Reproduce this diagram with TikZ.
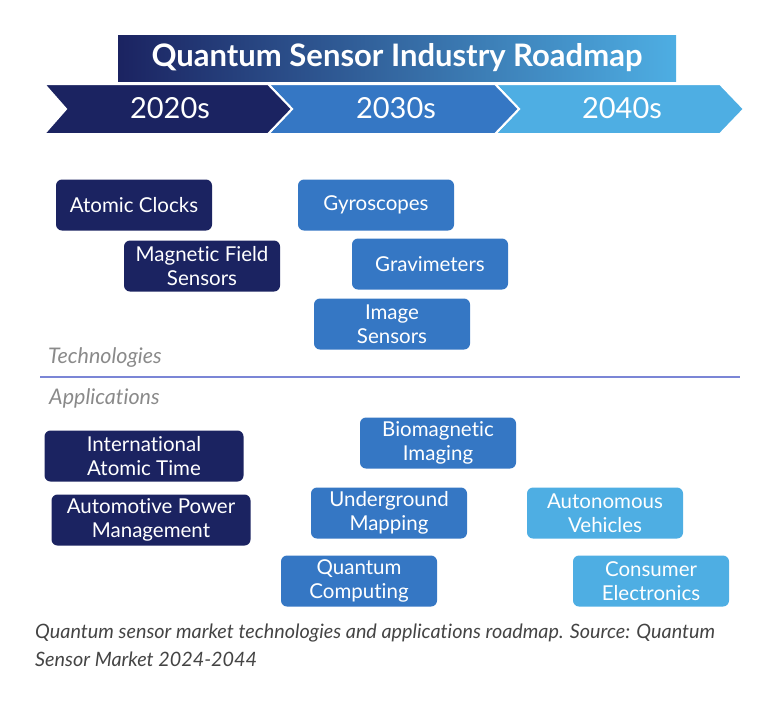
\documentclass[tikz,border=0pt]{standalone}
\usepackage{fontspec}
\setmainfont[Ligatures=NoCommon]{Lato}
\usepackage{tikz}

\definecolor{navy}{HTML}{1B2361}
\definecolor{midblue}{HTML}{3577C4}
\definecolor{lightblue}{HTML}{4EAEE3}
\definecolor{rulecol}{HTML}{7B86D6}
\definecolor{labelgrey}{HTML}{8A8A8A}
\definecolor{capgrey}{HTML}{444444}

\begin{document}
\begin{tikzpicture}[x=1pt,y=-1pt,
  techbox/.style={rounded corners=6pt,minimum width=156pt,minimum height=51pt,align=center,
    text=white,font=\fontsize{20.5}{24}\selectfont,inner sep=2pt},
  widebox/.style={techbox,minimum width=199pt},
  era/.style={text=white,font=\fontsize{29}{32}\selectfont},
  sectlabel/.style={anchor=west,inner sep=0pt,text=labelgrey,font=\fontsize{21.5}{24}\selectfont\itshape},
  chevron/.style={draw=white,line width=2pt,line join=miter}]
  \useasboundingbox (0,0) rectangle (776,702);

  % title bar
  \node[minimum width=558pt,minimum height=46pt,inner sep=0pt,left color=navy,middle color=midblue,right color=lightblue,
    text=white,font=\fontsize{31}{33}\selectfont\bfseries] at (397,58) (title) {Quantum Sensor Industry Roadmap};

  % timeline
  \filldraw[chevron,fill=lightblue] (495,84) -- (720,84) -- (744,109) -- (720,134) -- (495,134) -- (519,109) -- cycle;
  \filldraw[chevron,fill=midblue] (268,84) -- (495,84) -- (519,109) -- (495,134) -- (268,134) -- (292,109) -- cycle;
  \filldraw[chevron,fill=navy] (44,84) -- (268,84) -- (292,109) -- (268,134) -- (44,134) -- (66,109) -- cycle;
  \node[era] at (170,108) (e20) {2020s};
  \node[era] at (396,108) (e30) {2030s};
  \node[era] at (622,108) (e40) {2040s};

  % technologies
  \node[techbox,fill=navy] at (134,205) (clocks) {Atomic Clocks};
  \node[techbox,fill=navy] at (202,266) (magfield) {Magnetic Field\\Sensors};
  \node[techbox,fill=midblue] at (376,205) (gyro) {Gyroscopes};
  \node[techbox,fill=midblue] at (430,264) (gravi) {Gravimeters};
  \node[techbox,fill=midblue] at (392,324) (imgsens) {Image\\Sensors};
  \node[sectlabel] at (48,358) (techlabel) {Technologies};

  \draw[rulecol,line width=1.2pt] (40,377) -- (740,377);

  % applications
  \node[sectlabel] at (49,398) (applabel) {Applications};
  \node[widebox,fill=navy] at (144,456) (iat) {International\\Atomic Time};
  \node[widebox,fill=navy] at (151,520) (autopower) {Automotive Power\\Management};
  \node[techbox,fill=midblue] at (438,443) (biomag) {Biomagnetic\\Imaging};
  \node[techbox,fill=midblue] at (389,513) (underground) {Underground\\Mapping};
  \node[techbox,fill=midblue] at (359,581) (qcomp) {Quantum\\Computing};
  \node[techbox,fill=lightblue] at (605,513) (autveh) {Autonomous\\Vehicles};
  \node[techbox,fill=lightblue] at (651,581) (consumer) {Consumer\\Electronics};

  % caption
  \node[anchor=west,inner sep=0pt,text=capgrey,font=\fontsize{19.8}{22}\selectfont\itshape] at (35,633) (cap1) {Quantum sensor market technologies and applications roadmap. Source: Quantum};
  \node[anchor=west,inner sep=0pt,text=capgrey,font=\fontsize{19.8}{22}\selectfont\itshape] at (35,659) (cap2) {Sensor Market 2024-2044};
\end{tikzpicture}
\end{document}
